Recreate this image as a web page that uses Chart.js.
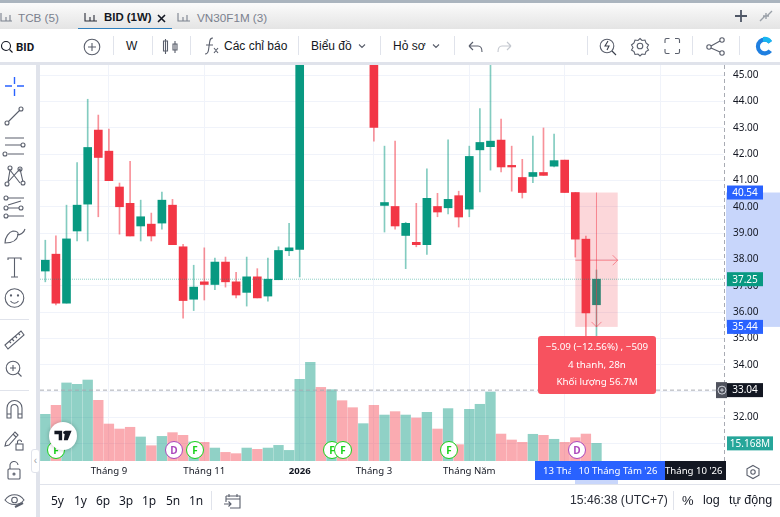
<!DOCTYPE html>
<html lang="vi">
<head>
<meta charset="utf-8">
<title>BID (1W)</title>
<script src="https://cdn.jsdelivr.net/npm/chart.js@4/dist/chart.umd.min.js"></script>
<style>
html, body { margin: 0; padding: 0; background: #fff; overflow: hidden; }
#page { position: relative; width: 780px; height: 517px; overflow: hidden; font-family: 'Liberation Sans', sans-serif; color: #131722; filter: blur(0.4px); }
#page > canvas { position: absolute; left: 0; top: 0; }
.abs { position: absolute; white-space: nowrap; }
.txt { position: absolute; white-space: nowrap; transform: translateY(-50%); line-height: 1; }
svg.abs { fill: none; stroke: #5a5f6c; stroke-width: 1.1; overflow: visible; }
.mark { position: absolute; width: 16px; height: 16px; border-radius: 50%; background: #fff; border: 1.5px solid; text-align: center; font: bold 10px/16px 'Open Sans', sans-serif; transform: translate(-50%, -50%); }
.tag { position: absolute; top: 461px; height: 19px; overflow: hidden; color: #fff; font: 9.6px/19px 'Noto Sans', sans-serif; white-space: nowrap; }
.sep { position: absolute; width: 1px; background: #e0e3eb; }
</style>
</head>
<body>
<div id="page">
  <canvas id="chart" width="780" height="517"></canvas>

  <!-- top tabs -->
  <div class="abs" style="left:0;top:0;width:780px;height:3px;background:#aab4be"></div>
  <div class="abs" style="left:0;top:3px;width:780px;height:26px;background:linear-gradient(#fbfbfb,#e4e4e4)"></div>
  <div class="abs" style="left:78px;top:27.5px;width:94px;height:1.5px;background:#2f7fbd"></div>
  <div class="txt" style="left:18px;top:18px;font-size:11.7px;color:#7b818e">TCB (5)</div>
  <div class="txt" style="left:104px;top:18px;font-size:11.4px;font-weight:bold">BID (1W)</div>
  <div class="txt" style="left:197px;top:18px;font-size:11.7px;color:#7b818e">VN30F1M (3)</div>
  <svg class="abs" style="left:0;top:0" width="780" height="30" viewBox="0 0 780 30">
    <path d="M1 13v8h11M6 21v-4M10 21v-6" stroke="#7b818e"/>
    <path d="M85 13v8h12M90 21v-4M94 21v-6" stroke="#2a2e39"/>
    <path d="M158 15l7 7M165 15l-7 7" stroke="#131722" stroke-width="1.6"/>
    <path d="M178 13v8h12M183 21v-4M187 21v-6" stroke="#7b818e"/>
    <path d="M735 16h12M741 10v12" stroke="#4f5766" stroke-width="1.8"/>
    <path d="M760 21l5-5M763 16h3v3M772 11l-5 5M766 16v-3M769 16h-3" stroke="#9aa0a8" stroke-width="1.4"/>
  </svg>

  <!-- main toolbar -->
  <div class="abs" style="left:0;top:29px;width:780px;height:33px;background:#fff"></div>
  <div class="abs" style="left:0;top:62px;width:780px;height:3px;background:#e0e3eb"></div>
  <div class="txt" style="left:16px;top:47px;font:bold 11.5px 'Roboto',sans-serif">BID</div>
  <div class="txt" style="left:126px;top:46px;font-size:12px">W</div>
  <div class="txt" style="left:224px;top:46px;font-size:12px">Các chỉ báo</div>
  <div class="txt" style="left:311px;top:46px;font-size:12px">Biểu đồ</div>
  <div class="txt" style="left:393px;top:46px;font-size:12px">Hỏ sơ</div>
  <div class="sep" style="left:113px;top:36px;height:19px"></div>
  <div class="sep" style="left:152px;top:36px;height:19px"></div>
  <div class="sep" style="left:190px;top:36px;height:19px"></div>
  <div class="sep" style="left:298px;top:36px;height:19px"></div>
  <div class="sep" style="left:380px;top:36px;height:19px"></div>
  <div class="sep" style="left:454px;top:36px;height:19px"></div>
  <div class="sep" style="left:587px;top:36px;height:19px"></div>
  <div class="sep" style="left:692px;top:36px;height:19px"></div>
  <div class="sep" style="left:739px;top:36px;height:19px"></div>
  <svg class="abs" style="left:0;top:29px" width="780" height="33" viewBox="0 29 780 33">
    <circle cx="6" cy="46" r="4.5" stroke="#131722"/><path d="M9.5 49.5l3 3" stroke="#131722"/>
    <circle cx="92" cy="47" r="7.8"/><path d="M88 47h8M92 43v8"/>
    <path d="M165.5 39v15M163.500 41h4v10h-4zM175 41v12M173 44h4v6h-4z"/>
    <path d="M213 38c-3 0-3 2-3.500 5l-1 7c-.4 3-1 4-3.500 4M206 45h7M214 48l4 5M218 48l-4 5"/>
    <path d="M359 44.500l3 3 3-3M433 44.500l3 3 3-3"/>
    <path d="M469 46h9c3 0 4 3 4 6M469 46l4-4M469 46l4 4"/>
    <path d="M511 46h-9c-3 0-4 3-4 6M511 46l-4-4M511 46l-4 4" stroke="#c4c8cf"/>
    <circle cx="607" cy="46" r="6.800"/><path d="M612 51l4 4M608 41l-3 5h4l-2 4" stroke="#3a3f4b"/>
    <circle cx="640" cy="46" r="2.800"/><path d="M640 38.500l2 2 3-.5 1 3 2.500 2-1.500 2.500 1.500 2.500-2.500 1.500-1 3-3-.5-2 2-2-2-3 .5-1-3-2.500-1.500 1.500-2.500-1.500-2.500 2.500-2 1-3 3 .5z"/>
    <path d="M665 43v-3a1.500 1.500 0 0 1 1.500-1.500h3M675 38.500h3a1.500 1.500 0 0 1 1.500 1.500v3M679.500 49v3a1.500 1.500 0 0 1-1.500 1.500h-3M669.500 53.500h-3a1.500 1.500 0 0 1-1.500-1.500v-3"/>
    <circle cx="709" cy="47" r="2.200"/><circle cx="722" cy="40" r="2.200"/><circle cx="722" cy="53" r="2.200"/><path d="M711 46l9-5M711 48l9 4"/>
    <path d="M772 41a9 9 0 1 0 0 11l-3.500-2.500a4.800 4.800 0 1 1 0-6z" fill="#1f7fe0" stroke="none"/>
    <path d="M772 41a9 9 0 0 0-9-4v5a4.800 4.800 0 0 1 5.500 1.500z" fill="#18b6f0" stroke="none"/>
  </svg>

  <!-- left drawing tools -->
  <div class="abs" style="left:0;top:65px;width:36px;height:452px;background:#fff"></div>
  <div class="abs" style="left:36px;top:65px;width:4px;height:452px;background:#e0e3eb"></div>
  <div class="abs" style="left:0;top:319px;width:29px;height:1px;background:#e0e3eb"></div>
  <div class="abs" style="left:0;top:390px;width:29px;height:1px;background:#e0e3eb"></div>
  <svg class="abs" style="left:0;top:65px" width="36" height="452" viewBox="0 65 36 452">
    <path d="M5 86h7M17 86h7M14.500 77v7M14.500 89v7" stroke="#2962ff" stroke-width="1.4"/>
    <circle cx="7" cy="123" r="2"/><circle cx="21" cy="109" r="2"/><path d="M8.500 121.500l11-11"/>
    <path d="M5 138h19M5 145h16M8 154h16"/><circle cx="23" cy="145" r="2"/><circle cx="5" cy="154" r="2"/>
    <circle cx="7" cy="184" r="2"/><circle cx="10" cy="168" r="2"/><circle cx="20" cy="169" r="2"/><circle cx="23" cy="183" r="2"/><path d="M8 182l2-12 10 13M8 182l12-13 3 13"/>
    <circle cx="6" cy="198" r="2"/><circle cx="6" cy="208" r="2"/><circle cx="6" cy="216" r="2"/><circle cx="21" cy="208" r="2"/>
    <path d="M8 198h16M8 208h11M8 216h16M8 205l13-4"/>
    <path d="M5 243c7 0 12-2 13-8 1-3-2-4-5-4-4 1-8 6-8 12zM17 235c3 0 7-2 8-6"/>
    <path d="M8 260v-2h13v2M14.500 258v19M11 277h7"/>
    <circle cx="14.500" cy="298" r="9.300"/><circle cx="11" cy="295.500" r=".6"/><circle cx="18" cy="295.500" r=".6"/><path d="M10.500 301c2 3 6 3 8 0"/>
    <path d="M5 345l16-14 3 4-16 14zM9 341l2 2M12 339l2 2M15 336l2 2M18 333l2 2"/>
    <circle cx="13" cy="368" r="6.800"/><path d="M18 373l3.500 3.500M10 368h6M13 365v6"/>
    <path d="M7 418v-10a7.500 7.500 0 0 1 15 0v10h-4v-10a3.500 3.500 0 0 0-7 0v10zM7 414h4M18 414h4"/>
    <path d="M6 442l9-10 3 3-9 10-4 1zM13 434l3 3"/><rect x="16" y="444" width="7" height="6"/><path d="M17.500 444v-2a2 2 0 0 1 4 0"/>
    <rect x="8" y="469" width="12" height="10" rx="1"/><path d="M10 469v-3a4 4 0 0 1 8-1"/><circle cx="14" cy="474" r="1"/>
    <path d="M5 500c5-7 14-7 19 0-5 6-14 6-19 0z"/><circle cx="14.500" cy="500" r="2.800"/><path d="M15 507l8-4" stroke-width="2"/>
  </svg>
  <div class="abs" style="left:31px;top:449px;width:7px;height:22px;background:#fff;border:1px solid #e0e3eb;border-radius:3px;color:#9aa0a8;font-size:10px;line-height:21px;text-align:center">‹</div>

  <!-- chart markers -->
  <div class="mark" style="left:56px;top:450px;color:#19d119;border-color:#19d119">F</div>
  <div class="mark" style="left:174px;top:450px;color:#ab47bc;border-color:#ab47bc">D</div>
  <div class="mark" style="left:195px;top:450px;color:#19d119;border-color:#19d119">F</div>
  <div class="mark" style="left:332px;top:450px;color:#19d119;border-color:#19d119">F</div>
  <div class="mark" style="left:343px;top:450px;color:#19d119;border-color:#19d119">F</div>
  <div class="mark" style="left:449px;top:450px;color:#19d119;border-color:#19d119">F</div>
  <div class="mark" style="left:577px;top:450px;color:#ab47bc;border-color:#ab47bc">D</div>
  <div class="abs" style="left:49px;top:422px;width:28px;height:28px;border-radius:50%;background:#fff;box-shadow:0 0 4px rgba(0,0,0,.25)"></div>
  <svg class="abs" style="left:54px;top:430px;stroke:none;fill:#131722" width="18" height="12" viewBox="0 0 20 14">
    <path d="M0 1h9v11H5V5H0zM12.500 1H20l-4.500 11h-4.500z"/><circle cx="12" cy="3" r="1.800"/>
  </svg>

  <!-- time axis highlight labels -->
  <div class="abs" style="left:575px;top:461px;width:43px;height:23px;background:#c8d6fb"></div>
  <div class="tag" style="left:535px;width:36px;background:#2962ff;padding-left:8px;box-sizing:border-box">13 Tháng 7 '26</div>
  <div class="tag" style="left:571px;width:94px;background:#2962ff;text-align:center">10 Tháng Tám '26</div>
  <div class="tag" style="left:665px;width:61px;background:#131722">Tháng 10 '26</div>
  <svg class="abs" style="left:745px;top:464px" width="16" height="16" viewBox="0 0 16 16">
    <path d="M8 1.500l6 3.300v6.400l-6 3.300-6-3.300V4.800z"/><circle cx="8" cy="8" r="2.200"/>
  </svg>

  <!-- bottom bar -->
  <div class="abs" style="left:40px;top:484px;width:740px;height:1px;background:#e0e3eb"></div>
  <div class="txt" style="left:51px;top:500px;font:12px 'Noto Sans',sans-serif">5y</div>
  <div class="txt" style="left:74px;top:500px;font:12px 'Noto Sans',sans-serif">1y</div>
  <div class="txt" style="left:96px;top:500px;font:12px 'Noto Sans',sans-serif">6p</div>
  <div class="txt" style="left:119px;top:500px;font:12px 'Noto Sans',sans-serif">3p</div>
  <div class="txt" style="left:142px;top:500px;font:12px 'Noto Sans',sans-serif">1p</div>
  <div class="txt" style="left:166px;top:500px;font:12px 'Noto Sans',sans-serif">5n</div>
  <div class="txt" style="left:189px;top:500px;font:12px 'Noto Sans',sans-serif">1n</div>
  <div class="sep" style="left:211px;top:491px;height:19px"></div>
  <svg class="abs" style="left:223px;top:491px" width="18" height="18" viewBox="0 0 18 18">
    <path d="M3 5h14v12H7M3 5v6M3 8h14M6 3v3M14 3v3M1 13h7M5.500 10.500l2.500 2.500-2.500 2.500"/>
  </svg>
  <div class="txt" style="left:570px;top:500px;font-size:12.2px;color:#2a2e39">15:46:38 (UTC+7)</div>
  <div class="sep" style="left:673px;top:491px;height:19px"></div>
  <div class="txt" style="left:682px;top:500px;font-size:13px">%</div>
  <div class="txt" style="left:703px;top:500px;font-size:12.5px">log</div>
  <div class="txt" style="left:729px;top:500px;font-size:12.5px">tự động</div>
</div>

<script>
// weekly candles
const opens = [37.56, 38.20, 36.34, 39.08, 40.10, 42.91, 42.11, 40.75, 40.13, 39.27, 39.34, 39.38, 40.06, 38.48, 36.49, 37.15, 37.05, 37.90, 37.15, 36.75, 37.34, 36.61, 37.23, 38.33, 38.38, 46.90, 50.50, 48.50, 51.50, 50.00, 47.50, 46.50, 40.05, 40.01, 38.91, 38.65, 38.56, 40.01, 39.96, 40.42, 39.91, 42.16, 42.28, 42.53, 41.57, 41.11, 41.15, 41.30, 41.54, 41.77, 40.54, 38.77, 36.28];
const highs = [38.73, 38.90, 40.06, 41.68, 44.08, 43.48, 42.95, 40.90, 41.72, 40.25, 39.76, 40.56, 40.28, 38.57, 37.78, 38.44, 38.05, 38.09, 37.51, 38.09, 37.65, 38.05, 38.48, 39.37, 47.20, 50.50, 51.00, 51.50, 52.00, 50.30, 48.50, 47.00, 42.30, 42.49, 39.41, 40.13, 41.44, 40.51, 42.54, 40.59, 42.30, 43.73, 46.00, 43.33, 42.30, 41.80, 42.68, 42.99, 42.76, 41.77, 40.54, 38.89, 37.60];
const lows = [37.15, 36.27, 36.34, 38.70, 38.70, 39.62, 40.99, 38.96, 38.89, 38.70, 38.70, 39.15, 38.56, 35.77, 36.06, 36.46, 36.85, 36.95, 36.54, 36.23, 36.54, 36.42, 37.23, 38.14, 37.34, 46.50, 46.90, 47.50, 48.50, 46.80, 46.90, 42.49, 39.04, 39.15, 37.65, 38.48, 38.19, 39.62, 39.73, 39.23, 39.62, 40.56, 41.39, 41.32, 40.59, 40.33, 40.91, 41.19, 41.51, 40.54, 38.09, 35.00, 35.00];
const closes = [37.97, 36.34, 38.78, 40.06, 42.25, 41.87, 40.99, 40.00, 38.89, 39.62, 38.89, 40.25, 38.56, 36.44, 36.95, 37.05, 37.90, 37.15, 36.65, 37.34, 36.54, 37.25, 38.34, 38.44, 46.90, 50.00, 48.50, 50.90, 50.00, 47.50, 48.80, 43.01, 40.16, 39.27, 39.37, 38.56, 40.32, 39.80, 40.28, 39.61, 41.91, 42.44, 42.49, 41.51, 41.51, 40.54, 41.30, 41.19, 41.75, 40.54, 38.77, 35.97, 37.25];
// volume in millions
const volumes = [40.0, 47.7, 66.9, 65.7, 69.4, 52.0, 31.7, 27.4, 28.9, 20.6, 13.1, 21.1, 24.3, 22.0, 16.3, 16.0, 11.1, 7.4, 6.3, 11.1, 10.0, 11.1, 13.4, 9.1, 70.0, 84.6, 63.1, 61.1, 51.7, 45.7, 32.0, 47.7, 39.4, 42.3, 39.4, 36.9, 41.7, 27.4, 44.9, 14.0, 44.3, 48.6, 59.1, 23.1, 18.0, 16.0, 22.9, 22.0, 18.6, 16.0, 20.0, 23.1, 15.168];

const priceTicks = [31, 32, 33, 34, 35, 36, 37, 38, 39, 40, 41, 42, 43, 44, 45];
const timeTicks = [6, 15, 24, 31, 40, 49, 58];
const timeLabels = ['Tháng 9', 'Tháng 11', '2026', 'Tháng 3', 'Tháng Năm', '', ''];

const lastPrice = 37.25;
const crossPrice = 33.04;
const measureHigh = 40.54;
const measureLow = 35.44;
const measureFrom = 50;
const measureTo = 54;
const measureBar = 52;
const measureArrowPrice = 37.97;
const lastVolume = '15.168M';
const measureLines = ['−5.09 (−12.56%) , −509', '4 thanh, 28n', 'Khối lượng 56.7M'];

const UP = '#089981';
const DOWN = '#f23645';
const axisFont = "'Noto Sans', sans-serif";
const isUp = i => closes[i] >= opens[i];

const priceRect = (ctx, x, y, w, h, color) => { ctx.fillStyle = color; ctx.fillRect(x, y, w, h); };

function priceTag(chart, value, color, text) {
    const { ctx } = chart;
    const y = chart.scales.y.getPixelForValue(value);
    priceRect(ctx, 727, y - 7, 36, 14, color);
    ctx.fillStyle = '#fff';
    ctx.font = '10px ' + axisFont;
    ctx.textAlign = 'center';
    ctx.textBaseline = 'middle';
    ctx.fillText(text, 745, y + 0.5);
}

const overlays = {
    id: 'overlays',
    beforeDraw(chart) {
        const { ctx, scales: { y } } = chart;
        // selected price range on the axis
        const top = y.getPixelForValue(measureHigh);
        priceRect(ctx, 726, top, 54, y.getPixelForValue(measureLow) - top, '#c8d6fb');
    },
    afterDraw(chart) {
        const { ctx, scales: { x, y }, chartArea: area } = chart;
        ctx.save();

        // measure rectangle and arrows
        const left = x.getPixelForValue(measureFrom);
        const right = x.getPixelForValue(measureTo);
        const top = y.getPixelForValue(measureHigh);
        const bottom = y.getPixelForValue(measureLow);
        const mid = x.getPixelForValue(measureBar);
        const arrowY = y.getPixelForValue(measureArrowPrice);
        priceRect(ctx, left, top, right - left, bottom - top, 'rgba(242,54,69,0.2)');
        ctx.strokeStyle = 'rgba(242,54,69,0.5)';
        ctx.lineWidth = 1;
        ctx.beginPath();
        ctx.moveTo(mid, top);
        ctx.lineTo(mid, bottom);
        ctx.moveTo(mid - 5, bottom - 5);
        ctx.lineTo(mid, bottom);
        ctx.lineTo(mid + 5, bottom - 5);
        ctx.moveTo(left, arrowY);
        ctx.lineTo(right, arrowY);
        ctx.moveTo(right - 5, arrowY - 5);
        ctx.lineTo(right, arrowY);
        ctx.lineTo(right - 5, arrowY + 5);
        ctx.stroke();

        // last price dots
        const lastY = y.getPixelForValue(lastPrice);
        ctx.strokeStyle = 'rgba(8,153,129,0.45)';
        ctx.setLineDash([1, 1]);
        ctx.beginPath();
        ctx.moveTo(area.left, lastY);
        ctx.lineTo(area.right, lastY);
        ctx.stroke();

        // crosshair
        const crossY = y.getPixelForValue(crossPrice);
        ctx.strokeStyle = '#a8abb3';
        ctx.setLineDash([4, 3]);
        ctx.beginPath();
        ctx.moveTo(area.left, crossY);
        ctx.lineTo(716, crossY);
        ctx.moveTo(area.right + 0.5, area.top);
        ctx.lineTo(area.right + 0.5, area.bottom);
        ctx.stroke();
        ctx.setLineDash([]);

        priceTag(chart, measureHigh, '#2962ff', measureHigh.toFixed(2));
        priceTag(chart, measureLow, '#2962ff', measureLow.toFixed(2));
        priceTag(chart, lastPrice, UP, lastPrice.toFixed(2));
        priceTag(chart, crossPrice, '#131722', crossPrice.toFixed(2));

        // plus button next to the crosshair label
        priceRect(ctx, 716, crossY - 8, 11, 16, '#50535e');
        ctx.strokeStyle = '#d1d4dc';
        ctx.beginPath();
        ctx.arc(722, crossY, 4, 0, Math.PI * 2);
        ctx.moveTo(720, crossY);
        ctx.lineTo(724, crossY);
        ctx.moveTo(722, crossY - 2);
        ctx.lineTo(722, crossY + 2);
        ctx.stroke();

        // last volume tag
        const volY = y.getPixelForValue(31) - 0.5;
        priceRect(ctx, 727, volY - 7, 46, 14, '#26a69a');
        ctx.fillStyle = '#fff';
        ctx.textAlign = 'center';
        ctx.textBaseline = 'middle';
        ctx.fillText(lastVolume, 750, volY + 0.5);

        // measure result box
        ctx.fillStyle = '#f7525f';
        ctx.beginPath();
        ctx.roundRect(538, 336, 118, 58, 3);
        ctx.fill();
        ctx.fillStyle = '#fff';
        ctx.font = '9.8px ' + axisFont;
        measureLines.forEach((line, i) => ctx.fillText(line, 597, 347.5 + i * 17.5));
        ctx.restore();
    }
};

new Chart(document.getElementById('chart'), {
    type: 'bar',
    data: {
        datasets: [
            {
                label: 'Khối lượng',
                yAxisID: 'yVol',
                order: 3,
                barThickness: 9.7,
                data: volumes.map((v, i) => ({ x: i, y: v })),
                backgroundColor: volumes.map((v, i) => isUp(i) ? 'rgba(8,153,129,0.45)' : 'rgba(242,54,69,0.42)')
            },
            {
                label: 'Wick',
                yAxisID: 'y',
                order: 2,
                barThickness: 1,
                data: highs.map((h, i) => ({ x: i, y: [lows[i], h] })),
                backgroundColor: highs.map((h, i) => isUp(i) ? 'rgba(8,153,129,0.5)' : 'rgba(242,54,69,0.55)')
            },
            {
                label: 'BID',
                yAxisID: 'y',
                order: 1,
                barThickness: 8,
                data: opens.map((o, i) => ({ x: i, y: [o, closes[i]] })),
                backgroundColor: opens.map((o, i) => isUp(i) ? UP : DOWN)
            }
        ]
    },
    options: {
        responsive: false,
        animation: false,
        devicePixelRatio: 1,
        layout: { padding: { left: 40, top: 65, right: 0, bottom: 0 } },
        datasets: { bar: { grouped: false, borderSkipped: false, borderWidth: 0 } },
        plugins: { legend: { display: false }, tooltip: { enabled: false } },
        scales: {
            x: {
                type: 'linear',
                offset: false,
                min: -0.5,
                max: 64.03,
                afterBuildTicks: axis => { axis.ticks = timeTicks.map(value => ({ value })); },
                afterFit: axis => { axis.height = 56; },
                border: { display: false },
                grid: { color: '#f0f3fa', offset: false, drawTicks: false },
                ticks: {
                    autoSkip: false,
                    maxRotation: 0,
                    padding: 5,
                    color: '#131722',
                    font: ctx => ({ family: axisFont, size: 9.6, weight: ctx.tick && ctx.tick.value === 24 ? 'bold' : 'normal' }),
                    callback: value => timeLabels[timeTicks.indexOf(value)]
                }
            },
            y: {
                position: 'right',
                min: 30.35,
                max: 45.38,
                afterBuildTicks: axis => { axis.ticks = priceTicks.map(value => ({ value })); },
                afterFit: axis => { axis.width = 56; },
                border: { display: false },
                grid: { color: '#f0f3fa', drawTicks: false },
                ticks: {
                    padding: 9,
                    color: '#131722',
                    font: { family: axisFont, size: 10 },
                    callback: value => value.toFixed(2)
                }
            },
            yVol: {
                display: false,
                min: 0,
                max: 339.4
            }
        }
    },
    plugins: [overlays]
});
</script>
</body>
</html>
